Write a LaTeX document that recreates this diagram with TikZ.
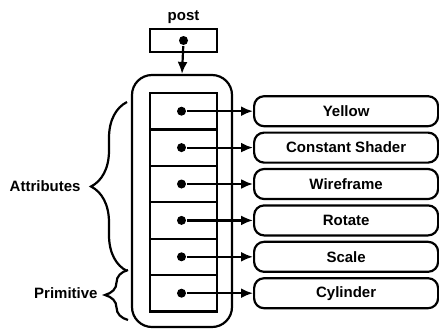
\documentclass[tikz,border=0pt]{standalone}
\usepackage{fontspec}
\setmainfont{Liberation Sans}
\usetikzlibrary{arrows.meta,positioning,decorations.pathreplacing}
\def\cellw{67pt}
\def\cellh{36.4pt}
\tikzstyle{cell} = [draw, minimum width=\cellw, minimum height=\cellh, inner sep=0pt]
\tikzstyle{dot} = [circle, fill=black, inner sep=0pt, minimum size=9pt]
\tikzstyle{item} = [draw, rounded corners=10pt, minimum width=184pt, minimum height=30pt, inner sep=0pt]
\tikzstyle{arrow} = [->,>={Latex[length=12pt,width=10pt]}]
\tikzstyle{curly} = [decorate, decoration={brace}]

\begin{document}
\begin{tikzpicture}[x=1pt,y=-1pt,line width=2.2pt,
        font=\bfseries\fontsize{15}{18}\selectfont]
        \useasboundingbox (0,0) rectangle (439,330);
        % the post pointer
        \node[cell, minimum height=23pt] (post) at (183.5,40.5) {};
        \node[above=0pt of post] (postname) {post};
        \node[dot] (postdot) at (post.center) {};
        % the list node
        \node[draw, rounded corners=20pt, minimum width=100pt, minimum height=252pt] (list) at (182,201) {};
        \draw[arrow] (postdot) -- (list.north);
        \foreach \name [count=\i] in {Yellow, Constant Shader, Wireframe, Rotate, Scale, Cylinder} {
          \node[cell] (c\i) at (183.5,{111.2+(\i-1)*36.4}) {};
          \node[dot] (d\i) at ([xshift=-2pt]c\i.center) {};
          \node[item, anchor=west] (i\i) at (253,{111.2+(\i-1)*36.4}) {\name};
          \draw[arrow] (d\i) -- (i\i);
        }
        % braces
        \coordinate (atop) at (127,102);
        \coordinate (abot) at (127,271);
        \coordinate (ptop) at (128,270);
        \coordinate (pbot) at (128,320);
        \draw[curly, decoration={amplitude=36pt}] (abot) -- (atop);
        \draw[curly, decoration={amplitude=23pt}] (pbot) -- (ptop);
        \node[anchor=east] (attr) at (85,186) {Attributes};
        \node[anchor=east] (prim) at (102,293) {Primitive};
      \end{tikzpicture}
\end{document}
